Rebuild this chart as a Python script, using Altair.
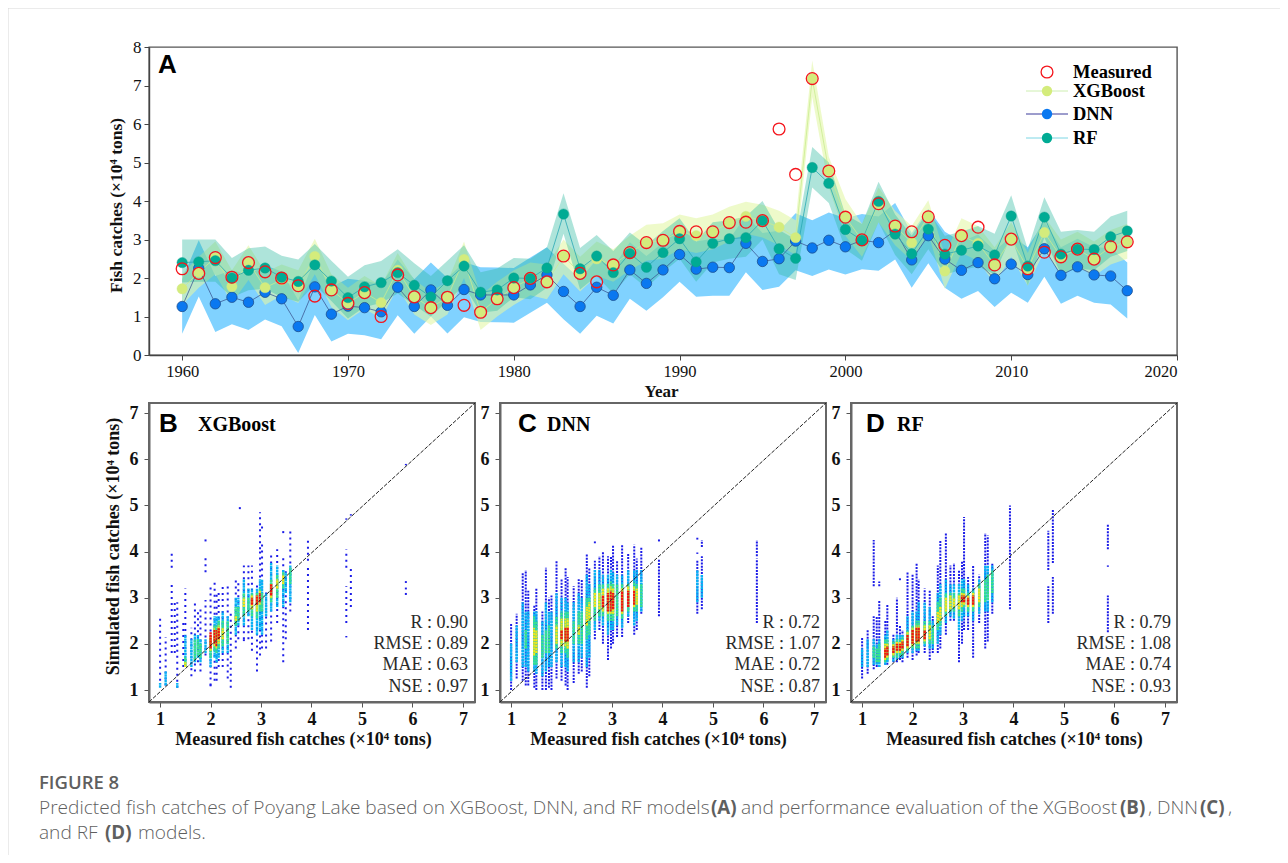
import altair as alt
import pandas as pd

YEARS = list(range(1960, 2018))
MEASURED = [2.24,2.12,2.53,2.02,2.40,2.16,2.00,1.80,1.53,1.69,1.34,1.62,1.00,2.08,1.51,1.23,1.50,1.29,1.11,1.46,
            1.75,1.99,1.90,2.57,2.12,1.90,2.34,2.66,2.92,2.98,3.21,3.20,3.20,3.44,3.45,3.49,5.87,4.69,7.18,4.78,
            3.58,2.99,3.93,3.35,3.20,3.59,2.85,3.10,3.32,2.34,3.01,2.24,2.67,2.55,2.75,2.49,2.81,2.94]
XGB = [1.72,2.15,2.53,1.78,2.40,1.75,1.95,1.80,2.56,1.69,1.35,1.62,1.36,2.20,1.51,1.23,1.50,2.48,1.11,1.46,
       1.75,1.99,1.90,2.57,2.12,2.50,2.34,2.66,2.92,2.98,3.20,3.10,3.20,3.44,3.60,3.49,3.32,3.05,7.18,4.78,
       3.58,2.99,3.93,3.35,2.92,3.59,2.18,3.10,2.90,2.34,3.01,2.24,3.18,2.55,2.75,2.49,2.81,2.94]
DNN = [1.26,2.25,1.33,1.50,1.37,1.63,1.46,0.74,1.77,1.06,1.27,1.23,1.12,1.76,1.26,1.69,1.29,1.70,1.56,1.56,
       1.56,1.82,2.08,1.65,1.26,1.76,1.55,2.21,1.86,2.21,2.61,2.23,2.28,2.27,2.90,2.43,2.50,2.96,2.78,2.98,
       2.81,2.98,2.92,3.23,2.47,3.10,2.49,2.20,2.40,1.98,2.36,2.09,2.76,2.07,2.29,2.08,2.05,1.67]
RF = [2.40,2.42,2.45,2.00,2.20,2.26,2.02,1.91,2.34,1.92,1.49,1.77,1.88,2.14,1.81,1.51,1.93,2.31,1.63,1.69,
      2.00,1.99,2.26,3.66,2.24,2.57,2.14,2.64,2.28,2.66,3.02,2.42,2.90,3.02,3.05,3.49,2.76,2.51,4.87,4.46,
      3.26,2.98,3.99,3.14,2.63,3.27,2.62,2.72,2.83,2.60,3.61,2.31,3.58,2.62,2.75,2.74,3.07,3.22]
DNN_LO = [0.55,1.52,0.60,0.80,0.65,0.92,0.75,0.05,1.04,0.35,0.55,0.51,0.41,1.03,0.55,1.00,0.56,0.98,0.86,0.85,
          0.84,1.10,1.36,0.93,0.55,1.02,0.82,1.46,1.15,1.50,1.90,1.51,1.54,1.54,2.15,1.69,1.77,2.20,2.05,2.22,
          2.09,2.23,2.19,2.48,1.75,2.38,1.75,1.46,1.66,1.25,1.62,1.36,2.03,1.33,1.54,1.36,1.31,0.95]
DNN_HI = [1.97,2.98,2.05,2.20,2.08,2.33,2.17,1.42,2.48,1.77,1.98,1.93,1.83,2.48,1.97,2.40,2.00,2.41,2.28,2.27,
          2.26,2.53,2.80,2.37,1.97,2.48,2.27,2.93,2.57,2.92,3.33,2.95,3.02,3.00,3.63,3.17,3.23,3.68,3.50,3.70,
          3.55,3.66,3.60,3.95,3.17,3.80,3.20,2.94,3.13,2.70,3.08,2.80,3.48,2.80,3.02,2.80,2.78,2.40]
RF_LO = [1.88,1.90,1.90,1.50,1.68,1.72,1.50,1.38,1.82,1.40,0.95,1.25,1.35,1.60,1.30,1.00,1.40,1.80,1.10,1.15,
         1.50,1.45,1.75,3.15,1.70,2.05,1.60,2.10,1.75,2.15,2.50,1.90,2.40,2.50,2.55,3.00,2.10,1.95,4.35,3.95,
         2.75,2.45,3.45,2.60,2.10,2.75,2.10,2.20,2.30,2.10,3.10,1.80,3.05,2.10,2.25,2.20,2.55,2.70]
RF_HI = [3.00,3.00,3.00,2.52,2.77,2.82,2.58,2.48,2.88,2.45,2.03,2.33,2.44,2.75,2.38,2.05,2.45,2.85,2.15,2.25,
         2.52,2.50,2.80,4.20,2.78,3.12,2.70,3.18,2.85,3.22,3.55,2.95,3.45,3.50,3.60,4.00,3.25,3.00,5.40,5.00,
         3.65,3.40,4.50,3.65,3.10,3.75,3.10,3.20,3.35,3.15,4.15,2.75,4.10,3.20,3.25,3.20,3.60,3.75]
XGB_LO = [1.30,1.75,2.10,1.35,1.95,1.30,1.55,1.35,2.10,1.25,0.90,1.20,0.95,1.75,1.05,0.78,1.05,2.00,0.65,1.00,
          1.30,1.55,1.45,2.10,1.65,2.05,1.90,2.20,2.45,2.50,2.75,2.65,2.75,2.95,3.15,3.05,2.85,2.60,6.70,4.35,
          3.10,2.55,3.45,2.85,2.45,3.15,1.72,2.65,2.45,1.85,2.55,1.80,2.70,2.10,2.30,2.05,2.35,2.50]
XGB_HI = [2.10,2.55,2.95,2.20,2.85,2.15,2.35,2.20,3.02,2.10,1.75,2.05,1.80,2.65,1.95,1.65,1.90,2.95,1.55,1.90,
          2.20,2.40,2.35,3.00,2.55,2.95,2.75,3.10,3.38,3.42,3.65,3.55,3.65,3.85,3.98,3.90,3.75,3.50,7.65,5.15,
          4.05,3.40,4.35,3.75,3.35,4.02,2.60,3.55,3.35,2.80,3.45,2.65,3.60,3.00,3.20,2.95,3.25,3.40]

# one row per measured value: x, then nested (low, high) bands from sparse blue to dense red
COLS_B = [
 (1.00,(1.20,2.60),(1.05,1.15)),(1.11,(1.10,2.15),(1.10,1.40)),(1.23,(1.80,3.30)),(1.29,(1.80,2.90)),
 (1.34,(1.05,2.90),(1.05,1.15)),(1.46,(1.50,2.50)),(1.50,(1.50,3.20),(1.50,2.20),(1.52,1.72),(1.50,1.60)),
 (1.62,(1.30,2.35),(1.50,2.10)),(1.69,(1.40,2.95),(1.60,2.20),(1.65,2.10)),(1.75,(1.60,2.75),(1.70,2.20),(1.75,2.10)),
 (1.80,(1.40,2.75),(1.60,2.10),(1.70,2.00)),(1.90,(1.75,2.95),(1.80,2.10)),
 (2.00,(1.10,3.25),(1.50,2.10),(1.70,2.10),(1.85,2.15),(1.90,2.25)),
 (2.08,(1.20,3.35),(1.70,2.60),(1.85,2.40),(1.95,2.35),(2.00,2.30)),
 (2.12,(1.20,3.10),(1.60,2.60),(1.80,2.40),(1.90,2.30),(1.95,2.30)),
 (2.16,(1.50,3.10),(1.70,2.60),(1.90,2.50),(2.00,2.40),(2.10,2.35)),
 (2.24,(1.50,3.25),(1.80,2.70),(1.95,2.50),(2.10,2.35)),(2.34,(1.25,3.30),(1.80,2.60),(2.00,2.50)),(2.40,(1.05,2.70)),
 (2.50,(1.90,3.45),(2.20,3.00),(2.40,2.80),(2.50,2.60)),(2.55,(2.10,3.40),(2.40,3.00),(2.50,2.80)),
 (2.66,(2.10,3.70),(2.40,3.40),(2.60,3.10),(2.80,3.00)),(2.75,(2.10,3.70),(2.60,3.20),(2.70,3.00)),
 (2.82,(1.85,3.70),(2.30,3.20),(2.60,3.10),(2.75,3.05),(2.85,3.00)),
 (2.92,(1.40,3.30),(2.20,3.20),(2.55,3.10),(2.70,3.05),(2.85,3.05)),
 (2.98,(1.75,4.00),(2.30,3.40),(2.70,3.20),(2.85,3.15),(2.90,3.10)),(3.02,(1.90,4.20),(2.20,3.40),(2.70,3.10)),
 (3.10,(1.90,3.20),(2.60,3.10)),(3.20,(2.05,4.00),(2.70,3.75),(2.90,3.40),(3.00,3.30),(3.05,3.30)),
 (3.32,(2.45,4.05),(2.80,3.70),(3.00,3.50),(3.20,3.40)),(3.44,(1.60,3.90),(2.80,3.60),(3.20,3.55),(3.30,3.50)),
 (3.49,(2.10,3.60),(3.10,3.55)),(3.58,(2.70,4.50),(2.90,3.70),(3.30,3.65)),(3.93,(2.30,3.70)),(4.69,(2.45,3.25)),
 (4.78,(2.80,3.65)),
]
EXTRA_B = [(1.23,3.65,4.00),(1.90,3.55,3.90),(2.58,4.92,4.98),(2.98,4.05,4.85),(3.02,4.50,4.60),(3.44,4.40,4.50),
           (3.93,3.80,4.25),(4.69,3.65,4.05),(4.69,2.14,2.17),(5.87,3.06,3.12),(5.87,3.18,3.22),(5.87,3.32,3.36),
           (4.69,4.69,4.72),(4.78,4.78,4.81),(5.87,5.87,5.90),(2.00,1.08,1.12),(2.66,2.06,2.10),(1.90,4.22,4.27)]
COLS_C = [
 (1.00,(1.00,2.45),(1.20,2.00)),(1.11,(1.25,2.65),(1.60,2.40)),(1.23,(1.20,3.55),(1.50,2.90)),
 (1.29,(1.10,3.60),(1.50,2.70),(1.90,2.30)),(1.34,(1.10,3.15),(1.40,2.70)),
 (1.46,(1.05,2.85),(1.40,2.70),(1.55,2.60),(1.75,2.35)),(1.50,(1.00,3.20),(1.35,2.70),(1.55,2.50),(1.80,2.30)),
 (1.62,(1.00,2.70),(1.30,2.50),(1.70,2.20)),(1.69,(1.00,3.65),(1.40,2.90),(1.80,2.30)),
 (1.75,(1.05,3.00),(1.50,2.70),(1.80,2.40)),(1.80,(1.00,3.05),(1.50,2.70)),
 (1.90,(1.25,3.80),(1.60,3.10),(1.90,2.60),(2.00,2.40)),(2.00,(1.20,3.40),(1.50,3.00),(1.80,2.70),(1.95,2.55),(2.10,2.30)),
 (2.08,(1.10,3.65),(1.50,3.00),(1.80,2.70),(1.95,2.55),(2.05,2.35)),(2.12,(1.00,3.45),(1.40,2.90),(1.70,2.70),(1.90,2.55),(2.05,2.35)),
 (2.24,(1.15,3.25),(1.60,2.90),(2.00,2.50)),(2.34,(1.35,3.40),(1.60,3.10),(2.00,2.70),(2.20,2.40)),
 (2.40,(1.40,3.40),(1.70,3.00),(2.00,2.70)),(2.50,(1.05,3.95),(1.50,3.50),(2.10,3.00),(2.40,2.80)),
 (2.55,(1.30,3.65),(1.70,3.30),(2.20,3.00),(2.50,2.90)),(2.66,(2.10,3.80),(2.30,3.60),(2.50,3.20),(2.80,3.10)),
 (2.75,(2.30,3.90),(2.50,3.60),(2.60,3.30),(2.75,3.10)),(2.82,(2.00,4.00),(2.40,3.50),(2.60,3.30),(2.70,3.20),(2.80,3.05)),
 (2.92,(1.65,3.90),(2.20,3.50),(2.50,3.30),(2.65,3.20),(2.70,3.10)),(2.98,(1.90,3.90),(2.30,3.60),(2.50,3.35),(2.65,3.25),(2.70,3.15)),
 (3.02,(2.00,4.15),(2.30,3.55),(2.50,3.30),(2.65,3.20),(2.75,3.10)),(3.10,(2.15,3.80),(2.40,3.50),(2.60,3.30)),
 (3.20,(2.15,4.15),(2.35,3.50),(2.55,3.30),(2.65,3.20),(2.70,3.15)),(3.32,(2.45,3.95),(2.60,3.60),(2.70,3.30),(2.80,3.25),(2.80,3.15)),
 (3.44,(2.20,4.15),(2.40,3.60),(2.70,3.35),(2.80,3.25),(2.85,3.15)),(3.49,(2.30,3.85),(2.50,3.60),(2.70,3.30),(2.85,3.20)),
 (3.58,(2.65,4.10),(2.70,3.60),(2.80,3.30)),(3.93,(2.60,3.85)),(4.69,(2.65,3.80),(2.90,3.60)),(4.78,(2.75,3.90),(3.00,3.50)),
 (5.87,(2.45,3.85)),
]
EXTRA_C = [(3.93,4.22,4.27),(4.69,3.95,3.98),(4.69,4.26,4.30),(4.78,4.10,4.25),(5.87,3.90,4.25),(2.66,4.18,4.22),(2.92,1.65,1.68)]
COLS_D = [
 (1.00,(1.25,2.15),(1.50,1.90)),(1.11,(1.35,2.30),(1.50,2.10)),(1.23,(1.45,2.60),(1.55,2.10),(1.70,1.95)),
 (1.29,(1.50,2.60),(1.55,2.00),(1.60,1.90)),(1.34,(1.50,2.95),(1.50,2.10),(1.60,2.00)),
 (1.46,(1.55,2.50),(1.55,2.20),(1.60,2.10),(1.65,2.00),(1.70,1.90)),(1.50,(1.55,2.85),(1.60,2.30),(1.65,2.10),(1.70,2.00),(1.75,1.95)),
 (1.62,(1.60,2.20),(1.62,2.10),(1.70,2.05),(1.75,2.00),(1.80,1.95)),(1.69,(1.60,3.00),(1.65,2.20),(1.70,2.10),(1.80,2.05),(1.85,2.00)),
 (1.75,(1.65,2.40),(1.70,2.20),(1.75,2.10),(1.80,2.05),(1.85,2.00)),(1.80,(1.60,2.30),(1.70,2.20),(1.75,2.15),(1.85,2.10),(1.90,2.05)),
 (1.90,(1.70,3.55),(1.80,2.60),(1.85,2.30),(1.90,2.25),(1.95,2.20)),(2.00,(1.65,3.50),(1.80,2.70),(1.90,2.40),(1.95,2.35),(2.00,2.30)),
 (2.08,(1.75,3.75),(1.85,2.70),(1.90,2.50),(2.00,2.40),(2.05,2.35)),(2.12,(1.80,3.40),(1.85,2.90),(1.90,2.50),(2.00,2.40),(2.05,2.35)),
 (2.24,(1.80,3.20),(1.95,2.90),(2.00,2.50),(2.05,2.40),(2.10,2.30)),(2.34,(1.65,3.15),(1.90,2.80),(2.00,2.50),(2.10,2.40)),
 (2.40,(1.80,2.60),(1.90,2.50),(2.00,2.40)),(2.50,(1.80,3.70),(2.00,3.10),(2.30,2.90),(2.45,2.70)),
 (2.55,(1.90,4.25),(2.20,3.30),(2.40,3.00),(2.50,2.80)),(2.66,(2.20,4.40),(2.45,3.40),(2.60,3.10),(2.70,3.00)),
 (2.75,(2.50,3.70),(2.60,3.30),(2.70,3.10),(2.75,3.05)),(2.82,(2.50,3.75),(2.55,3.30),(2.70,3.10),(2.80,3.00)),
 (2.92,(1.60,3.60),(2.30,3.30),(2.60,3.10),(2.75,3.05)),(2.98,(2.00,3.80),(2.50,3.40),(2.70,3.20),(2.80,3.10),(2.90,3.05)),
 (3.02,(2.30,4.75),(2.60,3.40),(2.80,3.20),(2.85,3.10),(2.90,3.05)),(3.10,(2.30,3.45),(2.60,3.30),(2.70,3.10),(2.80,3.05),(2.85,3.00)),
 (3.20,(1.70,3.70),(2.50,3.20),(2.70,3.15),(2.80,3.10),(2.85,3.05)),(3.32,(2.45,3.50),(2.65,3.40),(2.80,3.30),(2.90,3.20)),
 (3.44,(1.90,4.40),(2.70,3.70),(2.90,3.40)),(3.49,(2.05,4.35),(2.70,3.70),(2.95,3.50)),(3.58,(2.65,3.75),(2.90,3.70),(3.10,3.60)),
 (3.93,(2.75,5.00)),(4.69,(2.45,3.25)),(4.78,(2.65,3.45)),(5.87,(2.25,3.05)),
]
EXTRA_D = [(1.23,3.25,4.25),(1.34,3.25,3.35),(1.75,3.38,3.42),(4.69,3.60,4.45),(4.78,3.75,4.90),(5.87,4.05,4.60),(5.87,3.67,3.70)]

STATS_B = ["R : 0.90", "RMSE : 0.89", "MAE : 0.63", "NSE : 0.97"]
STATS_C = ["R : 0.72", "RMSE : 1.07", "MAE : 0.72", "NSE : 0.87"]
STATS_D = ["R : 0.79", "RMSE : 1.08", "MAE : 0.74", "NSE : 0.93"]
LEVEL_COLORS = ["#1c1ce8", "#08b4f4", "#3be28a", "#f2e41e", "#f01414"]
LEGEND = [("Measured", 72), ("XGBoost", 91), ("DNN", 114), ("RF", 138)]

SERIF = "Liberation Serif"
ONE = alt.Data(values=[{"o": 1}])


def label(text, x, y, size, font=SERIF, weight="bold", color="#000000", align="left"):
    return alt.Chart(ONE).mark_text(text=text, font=font, fontSize=size, fontWeight=weight, color=color,
                                    align=align, baseline="middle").encode(x=alt.value(x), y=alt.value(y))


# ---------- panel A
a_df = pd.DataFrame(dict(year=YEARS, m=MEASURED, x=XGB, d=DNN, r=RF, dl=DNN_LO, dh=DNN_HI,
                         rl=RF_LO, rh=RF_HI, xl=XGB_LO, xh=XGB_HI))
ax = alt.X("year:Q", scale=alt.Scale(domain=[1958, 2020], nice=False, zero=False),
           axis=alt.Axis(values=[1960, 1970, 1980, 1990, 2000, 2010, 2020], format="d", grid=False, tickSize=5,
                         tickColor="#444444", domainColor="#444444", domainWidth=1.4, labelFont=SERIF, labelFontSize=16.5,
                         labelColor="#111111", labelPadding=3, title="Year", titleFont=SERIF, titleFontSize=17,
                         titleFontWeight="bold", titleColor="#111111", titleBaseline="middle", titleX=512, titleY=36))
SCALE_AY = alt.Scale(domain=[0, 8], nice=False)
AXIS_AY = alt.Axis(values=list(range(0, 9)), grid=False, tickSize=5, tickColor="#444444", domainColor="#444444",
                   domainWidth=1.4, labelFont=SERIF, labelFontSize=17, labelColor="#111111", labelPadding=3,
                   title="Fish catches (×10⁴ tons)", titleFont=SERIF, titleFontSize=17.5, titleFontWeight="bold",
                   titleColor="#111111", titleBaseline="middle", titleX=-33, titleY=158)


def yy(f):
    return alt.Y(f"{f}:Q", scale=SCALE_AY, axis=AXIS_AY)


def band(lo, hi, color, op):
    return alt.Chart(a_df).mark_area(color=color, opacity=op).encode(x=ax, y=yy(lo), y2=f"{hi}:Q")


def line(f, color):
    return alt.Chart(a_df).mark_line(color=color, strokeWidth=0.8).encode(x=ax, y=yy(f))


def dots(f, fill, stroke, size=108, width=0.8):
    return alt.Chart(a_df).mark_point(shape="circle", filled=True, fill=fill, stroke=stroke, strokeWidth=width, size=size,
                                      opacity=1).encode(x=ax, y=yy(f))


def ring(f):
    return alt.Chart(a_df).mark_point(shape="circle", filled=False, stroke="#f4151c", strokeWidth=1.3, size=140,
                                      opacity=1).encode(x=ax, y=yy(f))


legend_layers = []
leg_styles = [None, ("#cdeeb0", "#d4ec7c"), ("#3a3a9a", "#0a78f0"), ("#7cd6e4", "#00ab94")]
for (name, ly), st in zip(LEGEND, leg_styles):
    py = ly - 47
    if st:
        legend_layers.append(alt.Chart(ONE).mark_rule(color=st[0], strokeWidth=1).encode(
            x=alt.value(1026 - 149), x2=alt.value(1068 - 149), y=alt.value(py)))
        legend_layers.append(alt.Chart(ONE).mark_point(shape="circle", filled=True, fill=st[1], size=108, opacity=1,
                                                       strokeWidth=0).encode(x=alt.value(1047 - 149), y=alt.value(py)))
    else:
        legend_layers.append(alt.Chart(ONE).mark_point(shape="circle", filled=False, stroke="#f4151c", strokeWidth=1.3, size=140,
                                                       opacity=1).encode(x=alt.value(1047 - 149), y=alt.value(py)))
    legend_layers.append(label(name, 1073 - 149, py, 18.5))

panel_a = alt.layer(
    band("dl", "dh", "#80d2ff", 1), band("xl", "xh", "#e3f6a6", 0.6), band("rl", "rh", "#2bb89f", 0.38),
    line("x", "#c9ec90"), line("d", "#3d5a96"), line("r", "#2aa8b4"),
    dots("d", "#0a78f0", "#1d4f8f"), dots("x", "#d4ec7c", "#cfe88a", width=0.4), dots("r", "#00ab94", "#0f9c8c", width=0.4),
    ring("m"), label("A", 158 - 149, 65 - 47, 26, font="Liberation Sans"), *legend_layers,
).properties(width=1028, height=308, view=alt.ViewBackground(stroke="#555555", strokeWidth=1.4))


# ---------- panels B, C, D
def panel(cols, extra, letter, letter_x, model, model_x, stats, stat_x, width, ytitle, xtitle_x, sparse):
    dom_x = [0.78, 7.24]
    dom_y = [0.74, 7.22]
    rows = []
    for c in cols:
        for lvl, b in enumerate(c[1:]):
            rows.append(dict(x=c[0], lo=b[0], hi=b[1], level=lvl))
    for e in extra:
        rows.append(dict(x=e[0], lo=e[1], hi=e[2], level=0))
    df = pd.DataFrame(rows)
    sx = alt.Scale(domain=dom_x, nice=False, zero=False)
    sy = alt.Scale(domain=dom_y, nice=False, zero=False)
    color = alt.Color("level:O", scale=alt.Scale(domain=[0, 1, 2, 3, 4], range=LEVEL_COLORS), legend=None)
    common = dict(grid=False, tickSize=5, tickColor="#555555", domainColor="#666666", domainWidth=2,
                  labelFont=SERIF, labelFontSize=18, labelFontWeight="bold", labelColor="#111111",
                  titleFont=SERIF, titleFontSize=18, titleFontWeight="bold", titleColor="#111111", titleBaseline="middle")
    xax = alt.Axis(values=[1, 2, 3, 4, 5, 6, 7], labelPadding=3, title="Measured fish catches (×10⁴ tons)",
                   titleX=xtitle_x, titleY=37, **common)
    if ytitle:
        yax = alt.Axis(values=[1, 2, 3, 4, 5, 6, 7], labelPadding=6, title=ytitle, titleX=-36, titleY=143, **common)
    else:
        yax = alt.Axis(values=[1, 2, 3, 4, 5, 6, 7], labelPadding=6, title=None, **common)
    blue = alt.Chart(df[df.level == 0]).mark_rule(strokeWidth=2, strokeDash=sparse).encode(
        x=alt.X("x:Q", scale=sx, axis=xax), y=alt.Y("lo:Q", scale=sy, axis=yax), y2="hi:Q", color=color)
    dense = alt.Chart(df[df.level > 0]).mark_rule(strokeWidth=2.4, strokeDash=[2.4, 0.5]).encode(
        x=alt.X("x:Q", scale=sx, axis=xax), y=alt.Y("lo:Q", scale=sy, axis=yax), y2="hi:Q", color=color)
    diag = alt.Chart(pd.DataFrame(dict(x=dom_x, y=dom_y))).mark_line(color="#222222", strokeWidth=1, strokeDash=[4, 1.5]).encode(
        x=alt.X("x:Q", scale=sx, axis=xax), y=alt.Y("y:Q", scale=sy, axis=yax))
    stat_y = [623, 644, 665, 687]
    texts = [label(t, stat_x, y - 403, 18, weight="normal", color="#2a2a2a", align="right") for t, y in zip(stats, stat_y)]
    return alt.layer(blue, dense, diag,
                     label(letter, letter_x, 424 - 403, 26, font="Liberation Sans"),
                     label(model, model_x, 425 - 403, 20),
                     *texts).properties(width=width, height=299,
                                        view=alt.ViewBackground(stroke="#666666", strokeWidth=2))


panel_b = panel(COLS_B, EXTRA_B, "B", 159 - 149, "XGBoost", 198 - 149, STATS_B, 468 - 149, 326,
                "Simulated fish catches (×10⁴ tons)", 154, [2, 4])
panel_c = panel(COLS_C, EXTRA_C, "C", 518 - 500, "DNN", 547 - 500, STATS_C, 820 - 500, 326, None, 158, [2, 1.2])
panel_d = panel(COLS_D, EXTRA_D, "D", 866 - 851, "RF", 897 - 851, STATS_D, 1171 - 851, 326, None, 163, [2, 1.2])

# ---------- caption (page furniture below the figure)
CAP = [("Predicted fish catches of Poyang Lake based on XGBoost, DNN, and RF models", 39, 808, "normal"), ("(A)", 711, 808, "bold"),
       ("and performance evaluation of the XGBoost", 741, 808, "normal"), ("(B)", 1120, 808, "bold"),
       (", DNN", 1148, 808, "normal"), ("(C)", 1200, 808, "bold"), (",", 1228, 808, "normal"),
       ("and RF", 39, 833, "normal"), ("(D)", 105, 833, "bold"), ("models.", 138, 833, "normal")]
# the caption view sits 48 px under panel A's row, whose flush height the layout counts as zero
OX, OY = 149, 451
cap_layers = [
    alt.Chart(ONE).mark_rule(color="#d8d8d8", strokeWidth=1).encode(x=alt.value(8 - OX), y=alt.value(8 - OY), y2=alt.value(863 - OY)),
    alt.Chart(ONE).mark_rule(color="#d8d8d8", strokeWidth=1).encode(x=alt.value(8 - OX), x2=alt.value(1288 - OX), y=alt.value(8 - OY)),
    label("FIGURE 8", 39 - OX, 783 - OY, 18.5, font="Open Sans", weight=600, color="#5f5f5f"),
]
for t, x, y, w in CAP:
    cap_layers.append(label(t, x - OX, y - OY, 19.1 if w == "normal" else 18.7, font="Open Sans", weight=300 if w == "normal" else "bold", color="#5f5f5f"))
caption = alt.layer(*cap_layers).properties(width=1028, height=90, view=alt.ViewBackground(stroke="transparent"))

row = alt.hconcat(panel_b, panel_c, panel_d, spacing=25, bounds="flush")
chart = alt.vconcat(panel_a, row, caption, spacing=48, bounds="flush").properties(
    autosize=alt.AutoSizeParams(type="none"),
    padding={"left": 141, "top": 39, "right": 1131, "bottom": 808},
    background="white",
)
chart.save("out.html", embed_options={"renderer": "svg", "actions": False})
